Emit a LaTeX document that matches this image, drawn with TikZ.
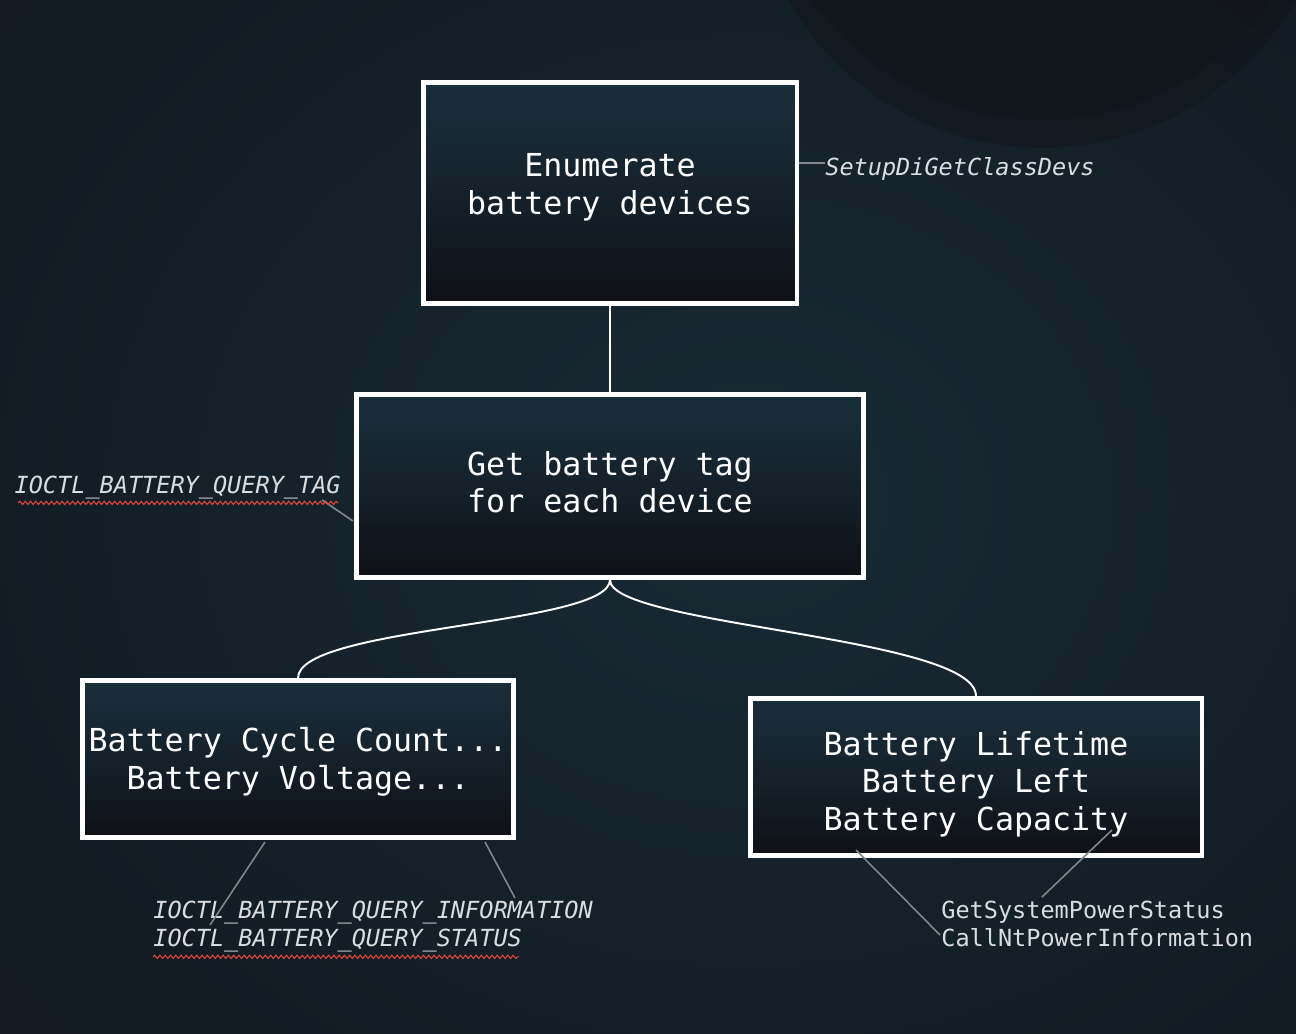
\documentclass[tikz,border=0pt]{standalone}
\usepackage{fontspec}
\setmonofont{DejaVu Sans Mono}
\usepackage{xcolor}
\usetikzlibrary{positioning, shapes, shadings, decorations.pathmorphing}
\definecolor{bgdark}{HTML}{121920}
\definecolor{bgteal}{HTML}{182A34}
\definecolor{bgshadow}{HTML}{111318}
\definecolor{boxtop}{HTML}{1A2F3B}
\definecolor{boxbot}{HTML}{0F1016}
\definecolor{leadgrey}{HTML}{80868B}
\definecolor{labelgrey}{HTML}{DADDE0}
\definecolor{spellred}{HTML}{E2483C}
\tikzset{
		taskbox/.style={draw=white, line width=2.8pt, top color=boxtop, bottom color=boxbot, middle color=boxtop!55!boxbot,
			text=white, align=center, inner sep=0pt, font=\ttfamily\fontsize{18}{21.5}\selectfont},
		apilabel/.style={text=labelgrey, align=left, inner sep=0pt, font=\ttfamily\fontsize{13.4}{15.9}\selectfont},
		link/.style={draw=white, line width=1.1pt},
		leader/.style={draw=leadgrey, line width=0.9pt},
		spelling/.style={draw=spellred, line width=0.6pt, decorate, decoration={snake, amplitude=0.9pt, segment length=3pt}}
	}
% struts to move box text up (depth) or down (height)
\newcommand{\lowstrut}[1]{\rule[-#1]{0pt}{#1}}
\newcommand{\highstrut}[1]{\rule{0pt}{#1}}

\begin{document}
\begin{tikzpicture}[x=0.02cm, y=-0.02cm, node distance=5.86cm]
				% background
				\useasboundingbox (0,0) rectangle (1296,1034);
				\begin{scope}
					\clip (0,0) rectangle (1296,1034);
					\fill[bgdark] (0,0) rectangle (1296,1034);
					\shade[inner color=bgteal, outer color=bgdark] (-200,-300) rectangle (1700,1300);
					\fill[bgshadow, opacity=0.45] (1042,-144) circle[radius=5.84cm];
					\fill[bgshadow, opacity=0.35] (1042,-160) circle[radius=5.6cm];
				\end{scope}

				% steps
				\node[taskbox, minimum width=7.48cm, minimum height=4.42cm] (enum) at (610,193) {Enumerate\\battery devices\lowstrut{10pt}};
				\node[taskbox, minimum width=10.16cm, minimum height=3.66cm] (tag) [below of = enum] {Get battery tag\\for each device\lowstrut{4.5pt}};
				\node[taskbox, minimum width=8.62cm, minimum height=3.14cm] (cycle) at (298,759) {\highstrut{17pt}Battery Cycle Count...\\Battery Voltage...};
				\node[taskbox, minimum width=9.04cm, minimum height=3.14cm] (life) at (976,777) {\highstrut{21.7pt}Battery Lifetime\\Battery Left\\Battery Capacity};

				\path[link] (enum) -- (tag);
				\path[link] (tag.south) .. controls +(0,46) and +(0,-52) .. (cycle.north);
				\path[link] (tag.south) .. controls +(0,46) and +(0,-60) .. (life.north);

				% api calls
				\node[apilabel, anchor=west] (setup) at (825,169) {\itshape SetupDiGetClassDevs};
				\node[apilabel, anchor=east] (qtag) at (341,488) {\itshape IOCTL\_BATTERY\_QUERY\_TAG};
				\node[apilabel, anchor=west] (qinfo) at (153,927) {\itshape IOCTL\_BATTERY\_QUERY\_INFORMATION\\\itshape IOCTL\_BATTERY\_QUERY\_STATUS};
				\node[apilabel, anchor=west] (power) at (941,924) {GetSystemPowerStatus\\CallNtPowerInformation};

				\coordinate (setuppin) at (799,163);
				\coordinate (qtagpin) at (322,500);
				\coordinate (qtagbox) at (353,521);
				\coordinate (cycleA) at (265,842);
				\coordinate (cycleB) at (485,842);
				\coordinate (qinfoA) at (210,925);
				\coordinate (qinfoB) at (515,898);
				\coordinate (lifeA) at (856,850);
				\coordinate (lifeB) at (1112,830);
				\coordinate (powerA) at (940,935);
				\coordinate (powerB) at (1042,897);

				\path[leader] (setuppin) -- (setup.west |- setuppin);
				\path[leader] (qtagpin) -- (qtagbox);
				\path[leader] (cycleA) -- (qinfoA);
				\path[leader] (cycleB) -- (qinfoB);
				\path[leader] (lifeA) -- (powerA);
				\path[leader] (lifeB) -- (powerB);

				% spell check marks
				\path[spelling] (qtag.south west) ++(4,3) -- ++(320,0);
				\path[spelling] (qinfo.south west) ++(0,4) -- ++(366,0);
			\end{tikzpicture}
\end{document}
